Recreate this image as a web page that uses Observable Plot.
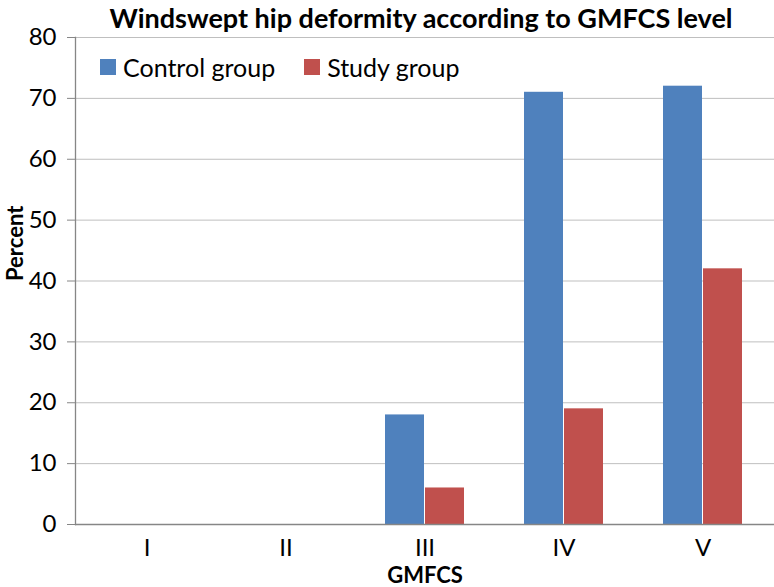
<!DOCTYPE html>
<html>
<head>
<meta charset="utf-8">
<script src="https://cdn.jsdelivr.net/npm/d3@7"></script>
<script src="https://cdn.jsdelivr.net/npm/@observablehq/plot@0.6"></script>
<style>
  html, body { margin: 0; padding: 0; background: #fff; }
  #wrap { position: relative; width: 774px; height: 587px; overflow: hidden; }
  #legend { position: absolute; left: 100px; top: 52px; display: flex; align-items: center;
            font-family: Lato, sans-serif; font-size: 25px; color: #000; }
  #legend .item { display: flex; align-items: center; margin-right: 29px; }
  #legend .sw { width: 16px; height: 16px; margin-right: 7px; }
</style>
</head>
<body>
<div id="wrap"><div id="legend"></div></div>
<script>
const title = "Windswept hip deformity according to GMFCS level";
const categories = ["I", "II", "III", "IV", "V"];
const series = ["Control group", "Study group"];
const colors = ["#4F81BD", "#C0504D"];
const controlValues = [0, 0, 18, 71, 72];
const studyValues = [0, 0, 6, 19, 42];
const yTicks = [0, 10, 20, 30, 40, 50, 60, 70, 80];
const xLabel = "GMFCS";
const yLabel = "Percent";

const controlData = categories.map((c, i) => ({cat: c, value: controlValues[i]}));
const studyData = categories.map((c, i) => ({cat: c, value: studyValues[i]}));

const plot = Plot.plot({
  width: 774,
  height: 587,
  marginTop: 37,
  marginBottom: 63,
  marginLeft: 75,
  marginRight: 0,
  style: {fontFamily: "Lato, sans-serif", color: "#000", background: "#fff", overflow: "visible"},
  x: {domain: categories, padding: 0},
  y: {domain: [0, 80]},
  marks: [
    Plot.gridY(yTicks, {stroke: "#bfbfbf", strokeOpacity: 1}),
    Plot.barY(controlData, {x: "cat", y: "value", fill: colors[0], insetLeft: 30, insetRight: 70}),
    Plot.barY(studyData, {x: "cat", y: "value", fill: colors[1], insetLeft: 70, insetRight: 30}),
    Plot.ruleY([0], {stroke: "#868686", strokeWidth: 1.3}),
    Plot.frame({anchor: "left", stroke: "#868686", strokeWidth: 1.3}),
    Plot.axisY({ticks: yTicks, tickSize: 8, tickPadding: 11, label: null, fontSize: 24, stroke: "#868686"}),
    Plot.axisX({tickSize: 0, tickPadding: 14, label: null, fontSize: 24}),
    Plot.text([title], {frameAnchor: "top", dy: -18, lineAnchor: "middle", fontSize: 27, fontWeight: "bold", dx: -4}),
    Plot.text([yLabel], {frameAnchor: "left", dx: -60, rotate: -90, lineAnchor: "middle", fontSize: 22, fontWeight: "bold"}),
    Plot.text([xLabel], {frameAnchor: "bottom", dy: 51, lineAnchor: "middle", fontSize: 22, fontWeight: "bold"})
  ]
});
document.getElementById("wrap").prepend(plot);

const legend = d3.select("#legend");
series.forEach((s, i) => {
  const item = legend.append("div").attr("class", "item");
  item.append("div").attr("class", "sw").style("background", colors[i]);
  item.append("span").text(s);
});
</script>
</body>
</html>
